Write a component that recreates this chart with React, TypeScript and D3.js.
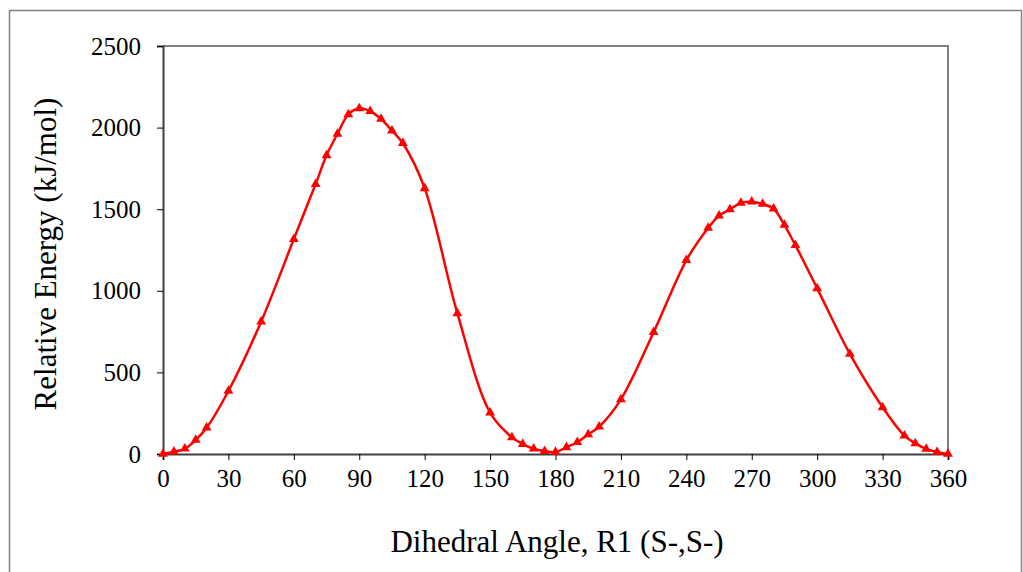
import * as d3 from "d3";
import React from "react";

// dihedral angle (deg) and relative energy (kJ/mol)
const angles = [
  0, 5, 10, 15, 20, 30, 45, 60, 70, 75, 80, 85, 90, 95, 100, 105, 110, 120,
  135, 150, 160, 165, 170, 175, 180, 185, 190, 195, 200, 210, 225, 240, 250,
  255, 260, 265, 270, 275, 280, 285, 290, 300, 315, 330, 340, 345, 350, 355, 360,
];
const energies = [
  0, 14, 32, 86, 161, 386, 811, 1317, 1654, 1830, 1961, 2081, 2118, 2100,
  2053, 1981, 1904, 1628, 862, 253, 102, 61, 32, 18, 12, 41, 72, 120, 167,
  335, 746, 1187, 1385, 1460, 1499, 1538, 1546, 1532, 1503, 1403, 1280, 1015,
  613, 286, 112, 65, 31, 12, 0,
];
const xTicks = [0, 30, 60, 90, 120, 150, 180, 210, 240, 270, 300, 330, 360];
const yTicks = [0, 500, 1000, 1500, 2000, 2500];

const W = 1023;
const H = 572;
const FONT = "'Liberation Serif', 'Times New Roman', serif";

export default function App() {
  const ref = React.useRef<SVGSVGElement>(null);

  React.useEffect(() => {
    const svg = d3.select(ref.current);
    svg.selectAll("*").remove();

    const left = 163,
      right = 948,
      top = 46,
      bottom = 454;

    const x = d3.scaleLinear().domain([0, 360]).range([left, right]);
    const y = d3.scaleLinear().domain([0, 2500]).range([bottom, top]);

    const data = angles.map((a, i) => ({ a, e: energies[i] }));

    // outer chart border
    svg
      .append("rect")
      .attr("x", 9.5)
      .attr("y", 10.5)
      .attr("width", 1012)
      .attr("height", 600)
      .attr("fill", "white")
      .attr("stroke", "#808080")
      .attr("stroke-width", 1.5);

    // plot frame (top + right)
    svg
      .append("path")
      .attr("d", `M${left},${top}H${right}V${bottom}`)
      .attr("fill", "none")
      .attr("stroke", "#808080")
      .attr("stroke-width", 2);

    const xAxis = d3
      .axisBottom(x)
      .tickValues(xTicks)
      .tickFormat(d3.format("d"))
      .tickSize(6)
      .tickPadding(9);
    const gx = svg
      .append("g")
      .attr("transform", "translate(0," + bottom + ")")
      .call(xAxis);
    gx.select(".domain").attr("stroke", "#404040").attr("stroke-width", 2);
    gx.selectAll(".tick line").attr("stroke", "#000");
    gx.selectAll("text")
      .attr("font-family", FONT)
      .attr("font-size", 25)
      .attr("fill", "#000");

    const yAxis = d3
      .axisLeft(y)
      .tickValues(yTicks)
      .tickFormat(d3.format("d"))
      .tickSize(6)
      .tickPadding(16);
    const gy = svg
      .append("g")
      .attr("transform", "translate(" + left + ",0)")
      .call(yAxis);
    gy.select(".domain").attr("stroke", "#404040").attr("stroke-width", 2);
    gy.selectAll(".tick line").attr("stroke", "#000");
    gy.selectAll("text")
      .attr("font-family", FONT)
      .attr("font-size", 25)
      .attr("fill", "#000");

    // smoothed line like Excel
    const line = d3
      .line<{ a: number; e: number }>()
      .x((d) => x(d.a))
      .y((d) => y(d.e))
      .curve(d3.curveCatmullRom.alpha(0.5));

    svg
      .append("path")
      .datum(data)
      .attr("d", line)
      .attr("fill", "none")
      .attr("stroke", "#ff0000")
      .attr("stroke-width", 2.5);

    const tri = d3.symbol().type(d3.symbolTriangle).size(42);
    svg
      .append("g")
      .selectAll("path")
      .data(data)
      .enter()
      .append("path")
      .attr("transform", (d) => "translate(" + x(d.a) + "," + y(d.e) + ")")
      .attr("d", tri)
      .attr("fill", "#ff0000");

    svg
      .append("text")
      .attr("x", 557)
      .attr("y", 552)
      .attr("text-anchor", "middle")
      .attr("font-family", FONT)
      .attr("font-size", 31)
      .text("Dihedral Angle, R1 (S-,S-)");

    svg
      .append("text")
      .attr("transform", "translate(56,254) rotate(-90)")
      .attr("text-anchor", "middle")
      .attr("font-family", FONT)
      .attr("font-size", 31)
      .text("Relative Energy (kJ/mol)");
  }, []);

  return (
    <svg
      ref={ref}
      width={W}
      height={H}
      style={{ position: "absolute", left: 0, top: 0, background: "white" }}
    ></svg>
  );
}
